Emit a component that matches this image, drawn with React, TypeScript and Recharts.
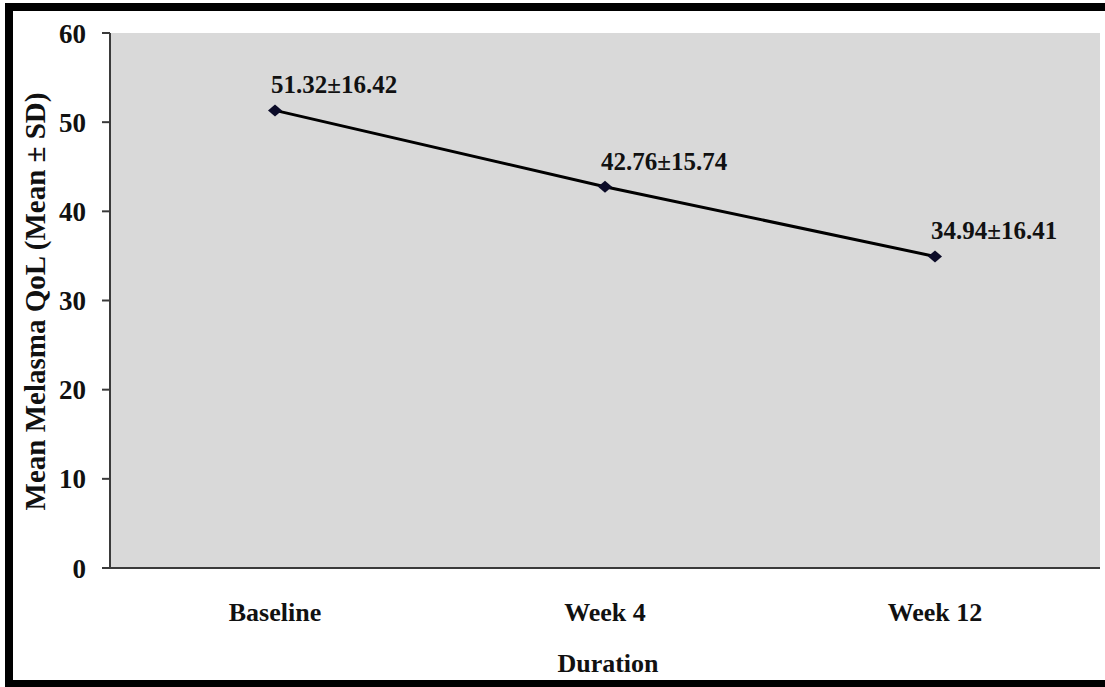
import { LineChart, Line, XAxis, YAxis, CartesianGrid, LabelList } from 'recharts';

// Melasma QoL scores over the treatment period
const durations = ['Baseline', 'Week 4', 'Week 12'];
const means = [51.32, 42.76, 34.94];
const sds = [16.42, 15.74, 16.41];
const yTicks = [0, 10, 20, 30, 40, 50, 60];

const chartData = durations.map((d, i) => ({
  duration: d,
  mean: means[i],
  label: `${means[i].toFixed(2)}±${sds[i].toFixed(2)}`,
}));

const FONT = '"Liberation Serif", "Times New Roman", serif';

const Diamond = (props: any) => {
  const { cx, cy } = props;
  if (cx == null || cy == null) return null;
  return (
    <polygon
      points={`${cx - 7},${cy} ${cx},${cy - 6} ${cx + 7},${cy} ${cx},${cy + 6}`}
      fill="#0b0b28"
    />
  );
};

const PointLabel = (props: any) => {
  const { x, y, value } = props;
  return (
    <text x={x - 4} y={y - 17} fontFamily={FONT} fontWeight="bold" fontSize={25} fill="#111">
      {value}
    </text>
  );
};

export default function App() {
  return (
    <div style={{ position: 'fixed', left: 0, top: 0, width: 1105, height: 687, background: '#fff' }}>
      <LineChart
        width={1105}
        height={687}
        data={chartData}
        margin={{ top: 33, right: 5, bottom: 0, left: 0 }}
      >
        <CartesianGrid fill="#d9d9d9" horizontal={false} vertical={false} />
        <XAxis
          dataKey="duration"
          padding={{ left: 165, right: 165 }}
          height={119}
          tickLine={false}
          tickSize={0}
          tickMargin={35}
          axisLine={{ stroke: '#3a3a3a', strokeWidth: 2 }}
          tick={{ fontFamily: FONT, fontWeight: 'bold', fontSize: 26, fill: '#111' }}
          label={{
            content: (p: any) => {
              const vb = p.viewBox;
              return (
                <text
                  x={vb.x + vb.width / 2 + 3}
                  y={vb.y + 104}
                  textAnchor="middle"
                  fontFamily={FONT}
                  fontWeight="bold"
                  fontSize={26}
                  fill="#111"
                >
                  Duration
                </text>
              );
            },
          }}
        />
        <YAxis
          domain={[0, 60]}
          ticks={yTicks}
          width={110}
          tickSize={8}
          tickMargin={16}
          tickLine={{ stroke: '#3a3a3a', strokeWidth: 2 }}
          axisLine={{ stroke: '#3a3a3a', strokeWidth: 2 }}
          tick={{ fontFamily: FONT, fontWeight: 'bold', fontSize: 27, fill: '#111' }}
          label={{
            content: (p: any) => {
              const vb = p.viewBox;
              const cx = vb.x + 35;
              const cy = vb.y + vb.height / 2 + 1;
              return (
                <text
                  x={cx}
                  y={cy}
                  transform={`rotate(-90, ${cx}, ${cy})`}
                  textAnchor="middle"
                  dominantBaseline="central"
                  fontFamily={FONT}
                  fontWeight="bold"
                  fontSize={29}
                  fill="#111"
                >
                  Mean Melasma QoL (Mean ± SD)
                </text>
              );
            },
          }}
        />
        <Line
          type="linear"
          dataKey="mean"
          stroke="#000"
          strokeWidth={3}
          dot={<Diamond />}
          activeDot={false}
          isAnimationActive={false}
        >
          <LabelList dataKey="label" content={<PointLabel />} />
        </Line>
      </LineChart>
      <div
        style={{
          position: 'absolute',
          left: 5,
          top: 3,
          width: 1100,
          height: 684,
          boxSizing: 'border-box',
          borderTop: '8px solid #000',
          borderLeft: '8px solid #000',
          borderBottom: '7px solid #000',
          pointerEvents: 'none',
        }}
      />
    </div>
  );
}
